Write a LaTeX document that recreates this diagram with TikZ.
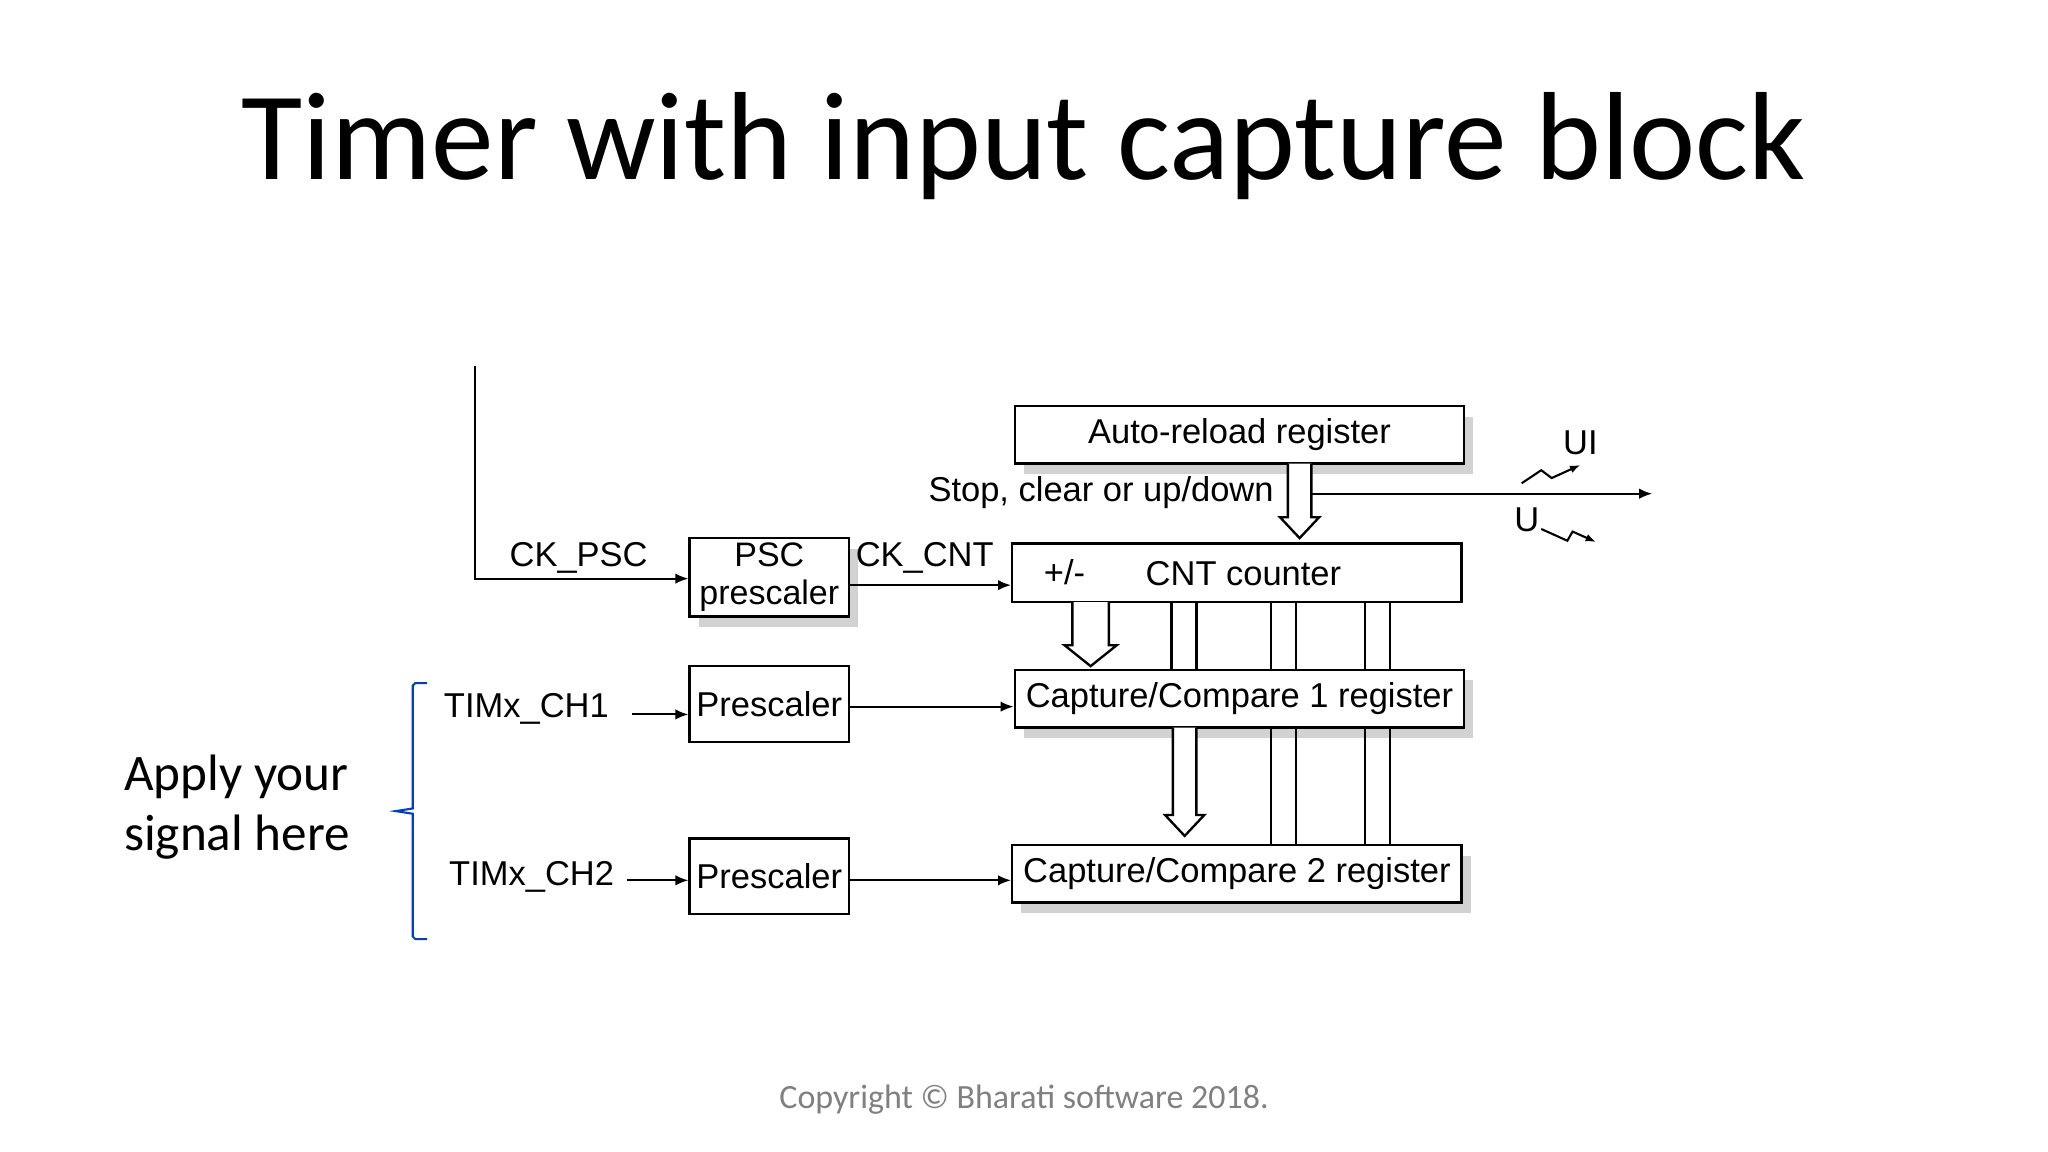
\documentclass[tikz,border=0pt]{standalone}
\usepackage{fontspec}
\setmainfont{Liberation Sans}
\newfontfamily\carl{Carlito}
\usetikzlibrary{arrows.meta,decorations.pathreplacing}
\newcommand{\harrowdown}[4]{% x, ytop, ybot, halfwidth
  \draw[line width=0.9pt,fill=white] (#1-#4,#2) -- (#1-#4,#3-16) -- (#1-#4-6,#3-16) -- (#1,#3) -- (#1+#4+6,#3-16) -- (#1+#4,#3-16) -- (#1+#4,#2);}
\begin{document}
\begin{tikzpicture}[x=0.5pt,y=-0.5pt,
  box/.style={draw,line width=0.9pt,fill=white,inner sep=0pt},
  lbl/.style={font=\fontsize{13.2}{14}\selectfont},
  arr/.style={line width=0.8pt,-{Latex[length=5pt,width=4pt]}},
  ln/.style={line width=0.9pt}]
\useasboundingbox (0,0) rectangle (1568,882);
\node[font=\carl\fontsize{48}{56}\selectfont] (title) at (784,112) {Timer with input capture block};
% shadows
\foreach \a/\b/\c/\d in {528/412/650/472, 777/311/1121/355, 777/513/1121/557, 775/647/1119/691}
  \fill[gray!35] (\a+7,\b+8) rectangle (\c+7,\d+8);
\node[box,minimum width=61pt,minimum height=30pt,align=center,lbl,font=\fontsize{13}{14.5}\selectfont] (psc) at (589,442) {PSC\\prescaler};
\node[box,minimum width=172pt,minimum height=22pt,lbl] (arr) at (949,333) {Auto-reload register};
\node[box,minimum width=172pt,minimum height=22.5pt] (cnt) at (947,438.5) {};
\node[lbl] (pm) at (815,438) {+/-};
\node[lbl] (cntt) at (952,439) {CNT counter};
\node[box,minimum width=172pt,minimum height=22pt,lbl] (cc1) at (949,535) {Capture/Compare 1 register};
\node[box,minimum width=172pt,minimum height=22pt,lbl] (cc2) at (947,669) {Capture/Compare 2 register};
\node[box,minimum width=61pt,minimum height=29pt,lbl] (p1) at (589,539) {Prescaler};
\node[box,minimum width=61pt,minimum height=29pt,lbl] (p2) at (589,671) {Prescaler};
\node[lbl] (ckpsc) at (443,427) {CK\_PSC};
\node[lbl] (ckcnt) at (708,427) {CK\_CNT};
\node[lbl] (stop) at (843,377) {Stop, clear or up/down};
\node[lbl] (ch1) at (403,543) {TIMx\_CH1};
\node[lbl] (ch2) at (407,671) {TIMx\_CH2};
\node[lbl] (ui) at (1210,339) {UI};
\node[lbl] (u) at (1169,398) {U};
\coordinate (top) at (364,280);
\coordinate (outend) at (1265,378);
% connectors
\draw[arr] (top) |- (psc.west |- 0,443);
\draw[arr] (psc.east |- 0,448) -- (cnt.west |- 0,448);
\draw[arr] (484,547) -- (p1.west |- 0,547);
\draw[arr] (480,674) -- (p2.west |- 0,674);
\draw[arr] (p1.east |- 0,541) -- (cc1.west |- 0,541);
\draw[arr] (p2.east |- 0,674) -- (cc2.west |- 0,674);
\draw[arr] (1004,378) -- (outend);
% hollow arrows
\harrowdown{995}{355}{412}{9}
\harrowdown{835}{461}{510}{14}
\harrowdown{907}{557}{640}{9}
% bus lines
\foreach \x in {897,916} \draw[ln] (\x,461) -- (\x,513);
\foreach \x in {973,992,1045,1064} \draw[ln] (\x,461) -- (\x,513) (\x,557) -- (\x,647);
% UI / U symbols
\draw[line width=0.8pt,-{Latex[length=4pt,width=3pt]}] (1165,370) -- (1180,360) -- (1188,366) -- (1210,356);
\draw[line width=0.8pt,-{Latex[length=4pt,width=3pt]}] (1180,405) -- (1200,414) -- (1204,407) -- (1222,415);
% brace
\draw[blue!70!cyan!80!black,line width=0.8pt] (327,523) -- (318,523) -- (316,525) -- (316,619) -- (303,621) -- (316,623) -- (316,717) -- (318,719) -- (327,719);
\node[font=\carl\fontsize{19.6}{23}\selectfont,align=left,anchor=west] (apply) at (88,618) {Apply your\\signal here};
\node[font=\carl\fontsize{13}{15}\selectfont,text=gray] (copy) at (784,842) {Copyright \textcopyright{} Bharati software 2018.};
\end{tikzpicture}
\end{document}
